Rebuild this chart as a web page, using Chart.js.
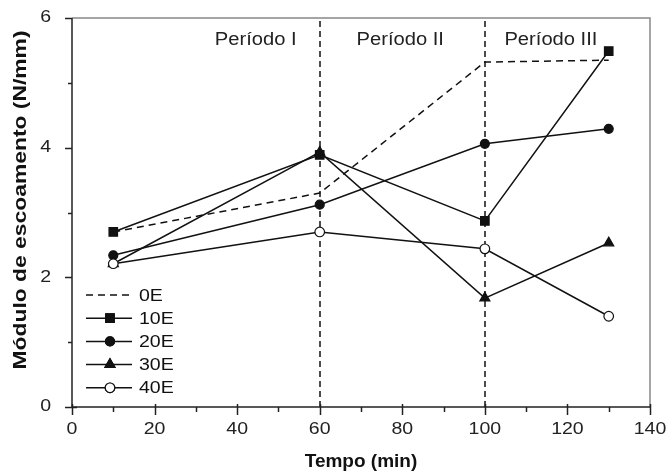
<!DOCTYPE html>
<html lang="pt">
<head>
<meta charset="UTF-8">
<title>Módulo de escoamento</title>
<script src="https://cdn.jsdelivr.net/npm/chart.js"></script>
<style>
  html, body { margin: 0; padding: 0; background: #fff; }
  #wrap { width: 670px; height: 473px; }
</style>
</head>
<body>
<div id="wrap"><canvas id="chart" width="670" height="473"></canvas></div>
<script>
// dados
const tempos = [10, 60, 100, 130];
const serie0E = [2.70, 3.30, 5.32, 5.35];
const serie10E = [2.70, 3.89, 2.87, 5.49];
const serie20E = [2.34, 3.12, 4.06, 4.29];
const serie30E = [2.21, 3.93, 1.68, 2.53];
const serie40E = [2.21, 2.70, 2.44, 1.40];
const periodos = ['Período I', 'Período II', 'Período III'];
const periodoX = [44.5, 79.5, 116];   // centro do rótulo (min)
const divisoes = [60, 100];
const legendas = ['0E', '10E', '20E', '30E', '40E'];
const ticksX = [0, 20, 40, 60, 80, 100, 120, 140];
const ticksY = [0, 2, 4, 6];

const fonte = 'Arial, "Liberation Sans", sans-serif';

function pts(vals) {
    return tempos.map((t, i) => ({ x: t, y: vals[i] }));
}

// texto com leve esticamento horizontal (como no original)
function texto(ctx, str, x, y, font, sx, align) {
    ctx.save();
    ctx.font = font;
    ctx.textAlign = align || 'center';
    ctx.textBaseline = 'middle';
    ctx.translate(x, y);
    ctx.scale(sx, 1);
    ctx.fillText(str, 0, 0);
    ctx.restore();
}

const estilos = [
    { dash: [7, 5], style: 'line', r: 0, fill: '#111' },
    { dash: [], style: 'rect', r: 6, fill: '#111' },
    { dash: [], style: 'circle', r: 4.5, fill: '#111' },
    { dash: [], style: 'triangle', r: 5.8, fill: '#111' },
    { dash: [], style: 'circle', r: 4.8, fill: '#fff' }
];
const series = [serie0E, serie10E, serie20E, serie30E, serie40E];

const datasets = series.map((s, i) => ({
    label: legendas[i],
    data: pts(s),
    borderColor: '#111',
    borderWidth: 1.5,
    borderDash: estilos[i].dash,
    pointStyle: estilos[i].style,
    pointRadius: estilos[i].r,
    pointBackgroundColor: estilos[i].fill,
    pointBorderColor: '#111',
    pointBorderWidth: 1.2,
    tension: 0,
    order: 5 - i
}));

const extras = {
    id: 'extras',
    beforeDatasetsDraw(chart) {
        const { ctx, chartArea: a, scales: { x } } = chart;
        ctx.save();
        ctx.strokeStyle = '#111';
        ctx.lineWidth = 1.5;
        ctx.setLineDash([6, 4]);
        divisoes.forEach(d => {
            const px = Math.round(x.getPixelForValue(d));
            ctx.beginPath();
            ctx.moveTo(px, a.bottom);
            ctx.lineTo(px, a.top);
            ctx.stroke();
        });
        ctx.setLineDash([]);
        ctx.fillStyle = '#222';
        periodos.forEach((p, i) => {
            texto(ctx, p, x.getPixelForValue(periodoX[i]), 40, '18px ' + fonte, 1.12);
        });
        ctx.restore();
    },
    afterDraw(chart) {
        const { ctx, chartArea: a, scales: { x, y } } = chart;
        ctx.save();
        // moldura superior e direita
        ctx.strokeStyle = '#888';
        ctx.lineWidth = 1.5;
        ctx.beginPath();
        ctx.moveTo(a.left, a.top);
        ctx.lineTo(a.right, a.top);
        ctx.lineTo(a.right, a.bottom);
        ctx.stroke();
        // eixos
        ctx.strokeStyle = '#222';
        ctx.beginPath();
        ctx.moveTo(a.left, a.top);
        ctx.lineTo(a.left, a.bottom);
        ctx.lineTo(a.right, a.bottom);
        ctx.stroke();
        // marcas do eixo x
        ctx.lineWidth = 1.5;
        for (let v = 0; v <= 140; v += 10) {
            const px = Math.round(x.getPixelForValue(v)) + 0.5;
            const maior = v % 20 === 0;
            ctx.beginPath();
            ctx.moveTo(px, a.bottom - (maior ? 3 : 0));
            ctx.lineTo(px, a.bottom + (maior ? 8 : 5));
            ctx.stroke();
        }
        for (let v = 0; v <= 6; v += 1) {
            const py = Math.round(y.getPixelForValue(v)) + 0.5;
            const maior = v % 2 === 0;
            ctx.beginPath();
            ctx.moveTo(a.left - (maior ? 7 : 4), py);
            ctx.lineTo(a.left + (v === 0 ? 5 : 0), py);
            ctx.stroke();
        }
        // rótulos
        ctx.fillStyle = '#222';
        ticksX.forEach(v => texto(ctx, String(v), x.getPixelForValue(v), 430, '16px ' + fonte, 1.22));
        ticksY.forEach(v => texto(ctx, String(v), 51, y.getPixelForValue(v), '16px ' + fonte, 1.22, 'right'));
        // legenda
        legendas.forEach((l, i) => {
            const ly = 295 + i * 23.2;
            ctx.strokeStyle = '#111';
            ctx.lineWidth = 1.5;
            ctx.setLineDash(estilos[i].dash);
            ctx.beginPath();
            ctx.moveTo(86, ly);
            ctx.lineTo(132, ly);
            ctx.stroke();
            ctx.setLineDash([]);
            if (estilos[i].r > 0) {
                ctx.fillStyle = estilos[i].fill;
                ctx.lineWidth = 1.2;
                Chart.helpers.drawPoint(ctx, {
                    pointStyle: estilos[i].style,
                    radius: estilos[i].r,
                    borderWidth: 1.2
                }, 110, ly);
                ctx.fill();
                ctx.stroke();
            }
            ctx.fillStyle = '#111';
            texto(ctx, l, 139, ly + 1, '17px ' + fonte, 1.15, 'left');
        });
        // títulos dos eixos
        ctx.fillStyle = '#111';
        texto(ctx, 'Tempo (min)', (a.left + a.right) / 2, 462, 'bold 19px ' + fonte, 1.0);
        ctx.translate(21, 200);
        ctx.rotate(-Math.PI / 2);
        texto(ctx, 'Módulo de escoamento (N/mm)', 0, 0, 'bold 18px ' + fonte, 1.27);
        ctx.restore();
    }
};

new Chart(document.getElementById('chart'), {
    type: 'line',
    data: { datasets: datasets },
    options: {
        responsive: false,
        animation: false,
        layout: { padding: { left: 0, top: 18, right: 20, bottom: 0 } },
        plugins: { legend: { display: false }, tooltip: { enabled: false } },
        scales: {
            x: {
                type: 'linear',
                min: 0, max: 140,
                border: { display: false },
                grid: { display: false },
                ticks: { display: false, stepSize: 10 },
                afterFit(s) { s.height = 66; }
            },
            y: {
                min: 0, max: 6,
                border: { display: false },
                grid: { display: false },
                ticks: { display: false, stepSize: 1 },
                afterFit(s) { s.width = 72; }
            }
        }
    },
    plugins: [extras]
});
</script>
</body>
</html>
